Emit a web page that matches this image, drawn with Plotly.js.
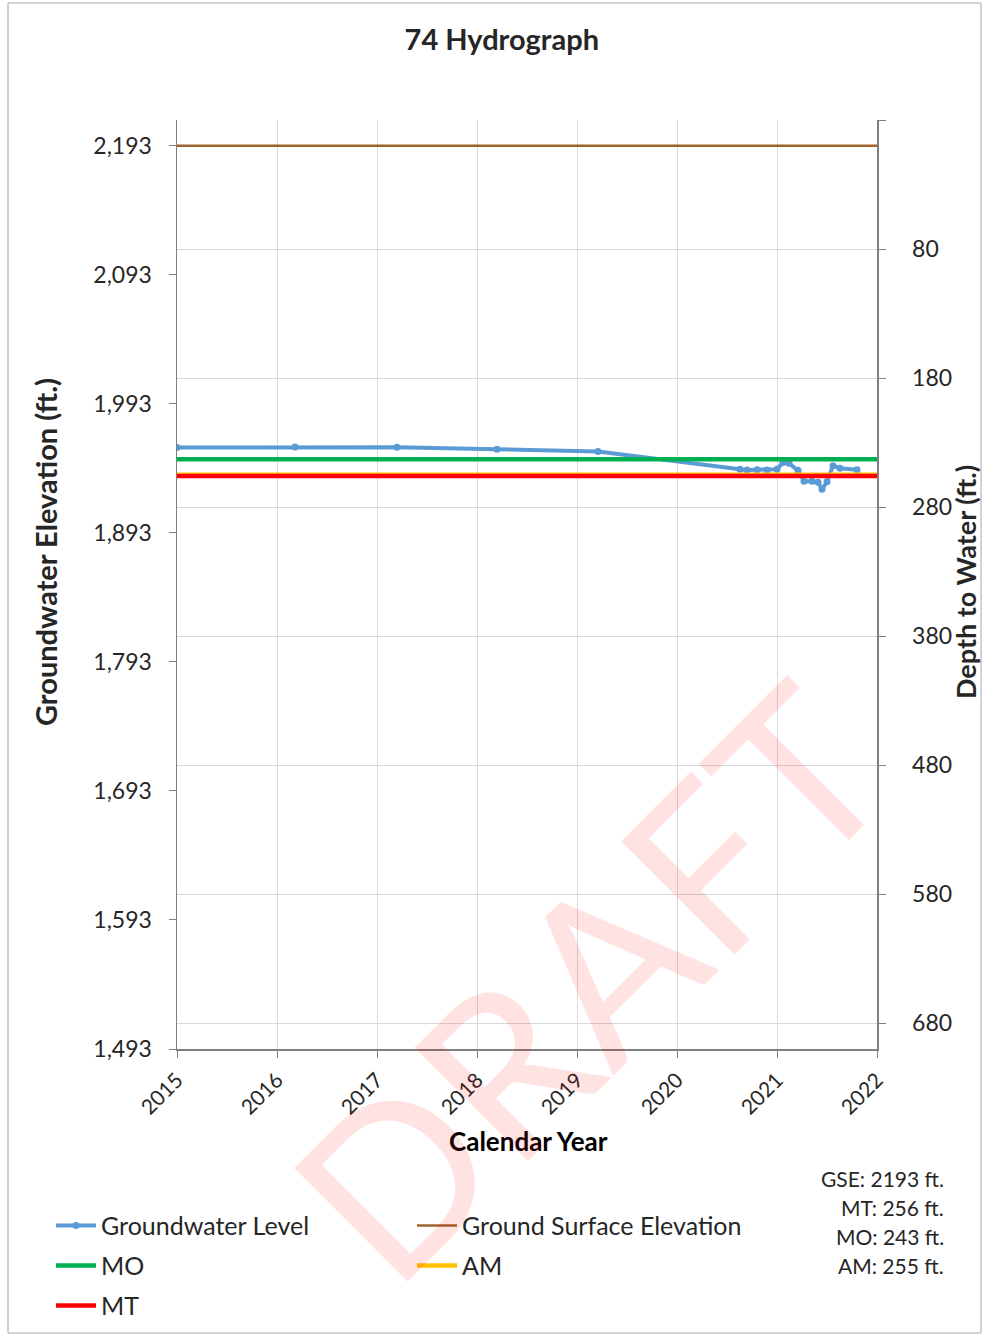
<!DOCTYPE html>
<html>
<head>
<meta charset="utf-8">
<script src="https://cdn.plot.ly/plotly-3.0.1.min.js"></script>
<style>html,body{margin:0;padding:0;background:#fff;}#chart{width:982px;height:1336px;}</style>
</head>
<body>
<div id="chart"></div>
<script>
// ---- data ----
var chartTitle = "74 Hydrograph";
var xTitle = "Calendar Year";
var yTitle = "Groundwater Elevation (ft.)";
var y2Title = "Depth to Water (ft.)";
var gse = 2193;          // ground surface elevation (ft)
var mtDepth = 256;       // minimum threshold depth (ft)
var moDepth = 243;       // measurable objective depth (ft)
var amDepth = 255;       // AM depth (ft)

var gwYears = [2015.0, 2016.18, 2017.2, 2018.2, 2019.21, 2020.63, 2020.7, 2020.8, 2020.9, 2021.0,
               2021.06, 2021.12, 2021.21, 2021.27, 2021.35, 2021.41, 2021.45, 2021.5, 2021.56, 2021.63, 2021.8];
var gwElev  = [1959.1, 1959.6, 1959.4, 1957.8, 1956.0, 1942.3, 1941.8, 1942.0, 1941.8, 1942.3,
               1947.5, 1946.9, 1941.5, 1933.0, 1933.0, 1932.2, 1926.8, 1932.6, 1945.0, 1943.1, 1941.9];

var refYears = [2015, 2022];
var yearTicks = [2015, 2016, 2017, 2018, 2019, 2020, 2021, 2022];
var elevTicks = [1493, 1593, 1693, 1793, 1893, 1993, 2093, 2193];
var depthTicks = [-20, 80, 180, 280, 380, 480, 580, 680];
var depthTickText = ["", "80", "180", "280", "380", "480", "580", "680"];
var infoLines = ["GSE: 2193 ft.", "MT: 256 ft.", "MO: 243 ft.", "AM: 255 ft."];

var FONT = "Lato, 'Open Sans', sans-serif";
var TXT = "#262626";

function flat(v) { return refYears.map(function () { return v; }); }

var traces = [
  {x: gwYears, y: gwElev, name: "Groundwater Level", mode: "lines+markers",
   line: {color: "#5B9BD5", width: 4}, marker: {color: "#5B9BD5", size: 7}, legend: "legend"},
  {x: refYears, y: flat(gse), name: "Ground Surface Elevation", mode: "lines",
   line: {color: "#A0632E", width: 2.5}, legend: "legend"},
  {x: refYears, y: flat(gse - moDepth), name: "MO", mode: "lines",
   line: {color: "#00B050", width: 4.5}, legend: "legend2"},
  {x: refYears, y: flat(gse - amDepth), name: "AM", mode: "lines",
   line: {color: "#FFC000", width: 4.5}, legend: "legend2"},
  {x: refYears, y: flat(gse - mtDepth), name: "MT", mode: "lines",
   line: {color: "#FF0000", width: 4.5}, legend: "legend3"},
  {x: refYears, y: [gse - 1493, gse - 2213], yaxis: "y2", mode: "lines", showlegend: false,
   hoverinfo: "skip", line: {width: 0}, opacity: 0}
];

var legendBase = {orientation: "h", xanchor: "left", yanchor: "top", entrywidth: 306,
  font: {family: FONT, size: 25, color: TXT}, bgcolor: "rgba(0,0,0,0)", itemwidth: 40};

var H = 929, B = 1049, L = 177, W = 700;
function px2x(p) { return (p - L) / W; }
function px2y(p) { return (B - p) / H; }

var annotations = infoLines.map(function (t, i) {
  return {text: t, xref: "paper", yref: "paper", x: px2x(946), y: px2y(1178 + 29 * i),
          xanchor: "right", yanchor: "middle", align: "right", showarrow: false,
          font: {family: FONT, size: 21, color: TXT}};
});
annotations.push(
  {text: "<b>" + yTitle + "</b>", xref: "paper", yref: "paper", x: px2x(45), y: px2y(552),
   xanchor: "center", yanchor: "middle", textangle: -90, showarrow: false,
   font: {family: FONT, size: 29, color: TXT}},
  {text: "<b>" + y2Title + "</b>", xref: "paper", yref: "paper", x: px2x(965), y: px2y(582),
   xanchor: "center", yanchor: "middle", textangle: -90, showarrow: false,
   font: {family: FONT, size: 27, color: TXT}},
  {text: "<b>" + xTitle + "</b>", xref: "paper", yref: "paper", x: px2x(528), y: px2y(1141),
   xanchor: "center", yanchor: "middle", showarrow: false,
   font: {family: FONT, size: 26, color: "#000"}},
  {text: "DRAFT", xref: "paper", yref: "paper", x: px2x(586), y: px2y(980),
   xanchor: "center", yanchor: "middle", textangle: -45, showarrow: false,
   font: {family: FONT, size: 224, color: "rgba(255,0,0,0.11)", weight: 400}}
);

var layout = {
  width: 982, height: 1336,
  margin: {l: 177, r: 105, t: 120, b: 287, autoexpand: false},
  paper_bgcolor: "#fff", plot_bgcolor: "#fff",
  font: {family: FONT, color: TXT},
  title: {text: "<b>" + chartTitle + "</b>", x: 0.511, xanchor: "center", y: 0.970, yanchor: "middle",
          font: {family: FONT, size: 29, color: TXT}},
  xaxis: {range: [2015, 2022], tickvals: yearTicks, ticktext: yearTicks.map(String), tickangle: -45,
          ticks: "outside", ticklen: 7, tickcolor: "#7f7f7f", showline: true, linecolor: "#7f7f7f", linewidth: 1.5,
          showgrid: true, gridcolor: "#d9d9d9", zeroline: false, ticklabelstandoff: 2,
          tickfont: {family: FONT, size: 21, color: TXT}},
  yaxis: {range: [1493, 2213], tickvals: elevTicks, tickformat: ",d",
          ticks: "outside", ticklen: 7, tickcolor: "#7f7f7f", showline: true, linecolor: "#7f7f7f", linewidth: 1.5,
          showgrid: false, zeroline: false, ticklabelstandoff: 12,
          tickfont: {family: FONT, size: 23, color: TXT}},
  yaxis2: {overlaying: "y", side: "right", range: [700, -20], tickvals: depthTicks, ticktext: depthTickText,
          ticks: "outside", ticklen: 7, tickcolor: "#7f7f7f", showline: true, linecolor: "#7f7f7f", linewidth: 1.5,
          showgrid: true, gridcolor: "#d9d9d9", zeroline: false, ticklabelstandoff: 22,
          tickfont: {family: FONT, size: 23, color: TXT}},
  showlegend: true,
  legend: Object.assign({}, legendBase, {x: -0.18, y: -0.1656}),
  legend2: Object.assign({}, legendBase, {x: -0.18, y: -0.2086}),
  legend3: Object.assign({}, legendBase, {x: -0.18, y: -0.2516}),
  annotations: annotations,
  shapes: [
    {type: "rect", xref: "paper", yref: "paper", x0: px2x(8), x1: px2x(981), y0: px2y(1333), y1: px2y(3),
     line: {color: "#a6a6a6", width: 1}, fillcolor: "rgba(0,0,0,0)", layer: "below"}
  ]
};

Plotly.newPlot("chart", traces, layout, {displayModeBar: false, staticPlot: true});
</script>
</body>
</html>
